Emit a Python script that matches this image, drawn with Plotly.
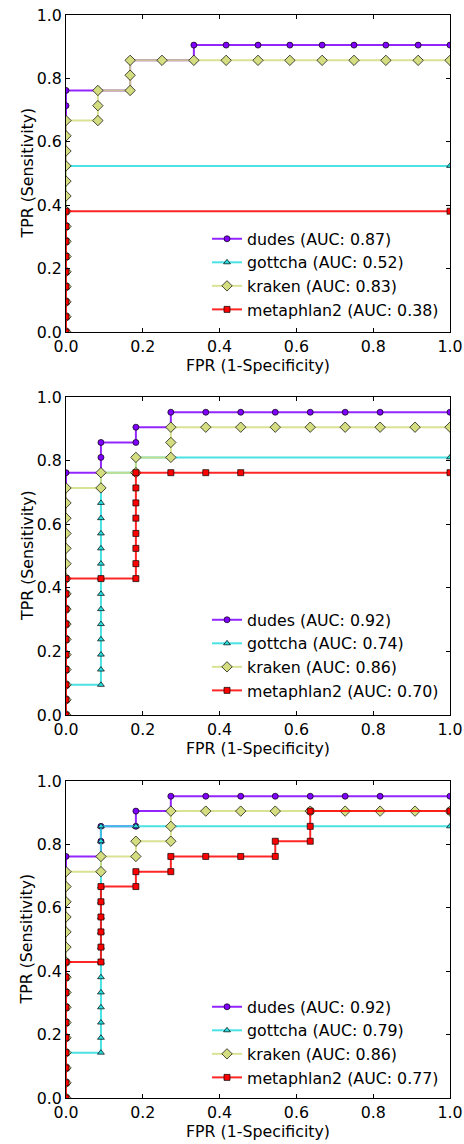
import plotly.graph_objects as go

# ---------------- data ----------------
SERIES = ["dudes", "gottcha", "kraken", "metaphlan2"]
COLORS = ["#8000ff", "#2adddd", "#d4dd80", "#ff0000"]
SYMBOLS = ["circle", "triangle-up", "diamond", "square"]
MSIZES = [6, 6, 8, 6]

# Panel 1
p1_dudes_fpr = [0] * 17 + [0.083, 0.167, 0.167, 0.25, 0.333, 0.333, 0.417, 0.5, 0.583, 0.667, 0.75, 0.833, 0.917, 1.0]
p1_dudes_tpr = [0.0, 0.048, 0.095, 0.143, 0.190, 0.238, 0.286, 0.333, 0.381, 0.429, 0.476, 0.524, 0.571, 0.619, 0.667, 0.714, 0.762,
                0.762, 0.762, 0.857, 0.857, 0.857, 0.905, 0.905, 0.905, 0.905, 0.905, 0.905, 0.905, 0.905, 0.905]
p1_gottcha_fpr = [0] * 12 + [1.0]
p1_gottcha_tpr = [0.0, 0.048, 0.095, 0.143, 0.190, 0.238, 0.286, 0.333, 0.381, 0.429, 0.476, 0.524, 0.524]
p1_kraken_fpr = [0] * 15 + [0.083, 0.083, 0.083, 0.167, 0.167, 0.167, 0.25, 0.333, 0.417, 0.5, 0.583, 0.667, 0.75, 0.833, 0.917, 1.0]
p1_kraken_tpr = [0.0, 0.048, 0.095, 0.143, 0.190, 0.238, 0.286, 0.333, 0.381, 0.429, 0.476, 0.524, 0.571, 0.619, 0.667,
                 0.667, 0.714, 0.762, 0.762, 0.810, 0.857, 0.857, 0.857, 0.857, 0.857, 0.857, 0.857, 0.857, 0.857, 0.857, 0.857]
p1_meta_fpr = [0] * 9 + [1.0]
p1_meta_tpr = [0.0, 0.048, 0.095, 0.143, 0.190, 0.238, 0.286, 0.333, 0.381, 0.381]
p1_auc = [0.87, 0.52, 0.83, 0.38]

# Panel 2
p2_dudes_fpr = [0] * 17 + [0.091, 0.091, 0.091, 0.182, 0.182, 0.273, 0.273, 0.364, 0.455, 0.545, 0.636, 0.727, 0.818, 1.0]
p2_dudes_tpr = [0.0, 0.048, 0.095, 0.143, 0.190, 0.238, 0.286, 0.333, 0.381, 0.429, 0.476, 0.524, 0.571, 0.619, 0.667, 0.714, 0.762,
                0.762, 0.810, 0.857, 0.857, 0.905, 0.905, 0.952, 0.952, 0.952, 0.952, 0.952, 0.952, 0.952, 0.952]
p2_gottcha_fpr = [0, 0, 0] + [0.091] * 15 + [0.182, 0.182, 0.273, 1.0]
p2_gottcha_tpr = [0.0, 0.048, 0.095,
                  0.095, 0.143, 0.190, 0.238, 0.286, 0.333, 0.381, 0.429, 0.476, 0.524, 0.571, 0.619, 0.667, 0.714, 0.762,
                  0.762, 0.810, 0.810, 0.810]
p2_kraken_fpr = [0] * 16 + [0.091, 0.091, 0.182, 0.182, 0.273, 0.273, 0.273, 0.364, 0.455, 0.545, 0.636, 0.727, 0.818, 0.909, 1.0]
p2_kraken_tpr = [0.0, 0.048, 0.095, 0.143, 0.190, 0.238, 0.286, 0.333, 0.381, 0.429, 0.476, 0.524, 0.571, 0.619, 0.667, 0.714,
                 0.714, 0.762, 0.762, 0.810, 0.810, 0.857, 0.905, 0.905, 0.905, 0.905, 0.905, 0.905, 0.905, 0.905, 0.905]
p2_meta_fpr = [0] * 10 + [0.091, 0.182, 0.182, 0.182, 0.182, 0.182, 0.182, 0.182, 0.182, 0.273, 0.364, 0.455, 1.0]
p2_meta_tpr = [0.0, 0.048, 0.095, 0.143, 0.190, 0.238, 0.286, 0.333, 0.381, 0.429,
               0.429, 0.429, 0.476, 0.524, 0.571, 0.619, 0.667, 0.714, 0.762, 0.762, 0.762, 0.762, 0.762]
p2_auc = [0.92, 0.74, 0.86, 0.70]

# Panel 3
p3_dudes_fpr = [0] * 17 + [0.091, 0.091, 0.091, 0.182, 0.182, 0.273, 0.273, 0.364, 0.455, 0.545, 0.636, 0.727, 0.818, 1.0]
p3_dudes_tpr = [0.0, 0.048, 0.095, 0.143, 0.190, 0.238, 0.286, 0.333, 0.381, 0.429, 0.476, 0.524, 0.571, 0.619, 0.667, 0.714, 0.762,
                0.762, 0.810, 0.857, 0.857, 0.905, 0.905, 0.952, 0.952, 0.952, 0.952, 0.952, 0.952, 0.952, 0.952]
p3_gottcha_fpr = [0, 0, 0, 0] + [0.091] * 16 + [0.182, 1.0]
p3_gottcha_tpr = [0.0, 0.048, 0.095, 0.143,
                  0.143, 0.190, 0.238, 0.286, 0.333, 0.381, 0.429, 0.476, 0.524, 0.571, 0.619, 0.667, 0.714, 0.762, 0.810, 0.857,
                  0.857, 0.857]
p3_kraken_fpr = [0] * 16 + [0.091, 0.091, 0.182, 0.182, 0.273, 0.273, 0.273, 0.364, 0.455, 0.545, 0.636, 0.727, 0.818, 0.909, 1.0]
p3_kraken_tpr = [0.0, 0.048, 0.095, 0.143, 0.190, 0.238, 0.286, 0.333, 0.381, 0.429, 0.476, 0.524, 0.571, 0.619, 0.667, 0.714,
                 0.714, 0.762, 0.762, 0.810, 0.810, 0.857, 0.905, 0.905, 0.905, 0.905, 0.905, 0.905, 0.905, 0.905, 0.905]
p3_meta_fpr = [0] * 10 + [0.091] * 6 + [0.182, 0.182, 0.273, 0.273, 0.364, 0.455, 0.545, 0.545, 0.636, 0.636, 0.636, 1.0]
p3_meta_tpr = [0.0, 0.048, 0.095, 0.143, 0.190, 0.238, 0.286, 0.333, 0.381, 0.429,
               0.429, 0.476, 0.524, 0.571, 0.619, 0.667,
               0.667, 0.714, 0.714, 0.762, 0.762, 0.762, 0.762, 0.810, 0.810, 0.857, 0.905, 0.905]
p3_auc = [0.92, 0.79, 0.86, 0.77]

X_TICKS = [0.0, 0.2, 0.4, 0.6, 0.8, 1.0]
Y_TICKS = [0.0, 0.2, 0.4, 0.6, 0.8, 1.0]
X_TITLE = "FPR (1-Specificity)"
Y_TITLE = "TPR (Sensitivity)"

panels = [
    ([(p1_dudes_fpr, p1_dudes_tpr), (p1_gottcha_fpr, p1_gottcha_tpr), (p1_kraken_fpr, p1_kraken_tpr), (p1_meta_fpr, p1_meta_tpr)], p1_auc),
    ([(p2_dudes_fpr, p2_dudes_tpr), (p2_gottcha_fpr, p2_gottcha_tpr), (p2_kraken_fpr, p2_kraken_tpr), (p2_meta_fpr, p2_meta_tpr)], p2_auc),
    ([(p3_dudes_fpr, p3_dudes_tpr), (p3_gottcha_fpr, p3_gottcha_tpr), (p3_kraken_fpr, p3_kraken_tpr), (p3_meta_fpr, p3_meta_tpr)], p3_auc),
]

# ---------------- layout geometry ----------------
W, H = 464, 1144
ML, MR, MT, MB = 66, 14, 15, 46
Y_DOMAINS = [[0.7073, 1.0], [0.3536, 0.6473], [0.0, 0.2927]]
FONT = "DejaVu Sans"
FS = 15.8


def rgba(hexc, a):
    h = hexc.lstrip("#")
    return "rgba(%d,%d,%d,%.2f)" % (int(h[0:2], 16), int(h[2:4], 16), int(h[4:6], 16), a)


fig = go.Figure()
legend_names = ["legend", "legend2", "legend3"]
for pi, (curves, aucs) in enumerate(panels):
    sfx = "" if pi == 0 else str(pi + 1)
    for si, (fx, ty) in enumerate(curves):
        fig.add_trace(go.Scatter(
            x=fx, y=ty, mode="lines+markers",
            name="%s (AUC: %.2f)" % (SERIES[si], aucs[si]),
            xaxis="x" + sfx, yaxis="y" + sfx,
            legend=legend_names[pi],
            legendgroup="p%d_%d" % (pi, si),
            line=dict(color=rgba(COLORS[si], 0.85), width=2),
            marker=dict(symbol=SYMBOLS[si], size=MSIZES[si], color=COLORS[si],
                        line=dict(color="black", width=0.7)),
            cliponaxis=True,
        ))

axis_common = dict(
    range=[0, 1], tickvals=X_TICKS, ticktext=["%.1f" % v for v in X_TICKS],
    showline=True, linecolor="black", linewidth=1, mirror="ticks",
    ticks="inside", ticklen=4, tickcolor="black", tickwidth=1,
    showgrid=False, zeroline=False,
    tickfont=dict(family=FONT, size=FS, color="black"),
)

layout = dict(
    width=W, height=H,
    margin=dict(l=ML, r=MR, t=MT, b=MB, autoexpand=False),
    paper_bgcolor="white", plot_bgcolor="white",
    font=dict(family=FONT, size=FS, color="black"),
)
legend_top_px = [222, 603, 990]
annotations = []
for pi in range(3):
    sfx = "" if pi == 0 else str(pi + 1)
    xa = dict(axis_common)
    xa.update(domain=[0, 1], anchor="y" + sfx,
              title=dict(text=X_TITLE, font=dict(family=FONT, size=FS), standoff=3))
    ya = dict(axis_common)
    ya.update(domain=Y_DOMAINS[pi], anchor="x" + sfx, tickvals=Y_TICKS,
              ticktext=["%.1f" % v for v in Y_TICKS])
    layout["xaxis" + sfx] = xa
    layout["yaxis" + sfx] = ya
    annotations.append(dict(
        text=Y_TITLE, xref="paper", yref="paper", x=0, xshift=-39,
        y=(Y_DOMAINS[pi][0] + Y_DOMAINS[pi][1]) / 2, textangle=-90,
        xanchor="center", yanchor="middle", showarrow=False,
        font=dict(family=FONT, size=FS, color="black"),
    ))
    plot_h = H - MT - MB
    layout[legend_names[pi]] = dict(
        x=(207 - ML) / (W - ML - MR), xanchor="left",
        y=(H - MB - legend_top_px[pi]) / plot_h, yanchor="top",
        bgcolor="rgba(0,0,0,0)", borderwidth=0,
        font=dict(family=FONT, size=FS, color="black"),
        tracegroupgap=0,
    )
layout["annotations"] = annotations

fig.update_layout(**layout)
fig.write_html("out.html")
